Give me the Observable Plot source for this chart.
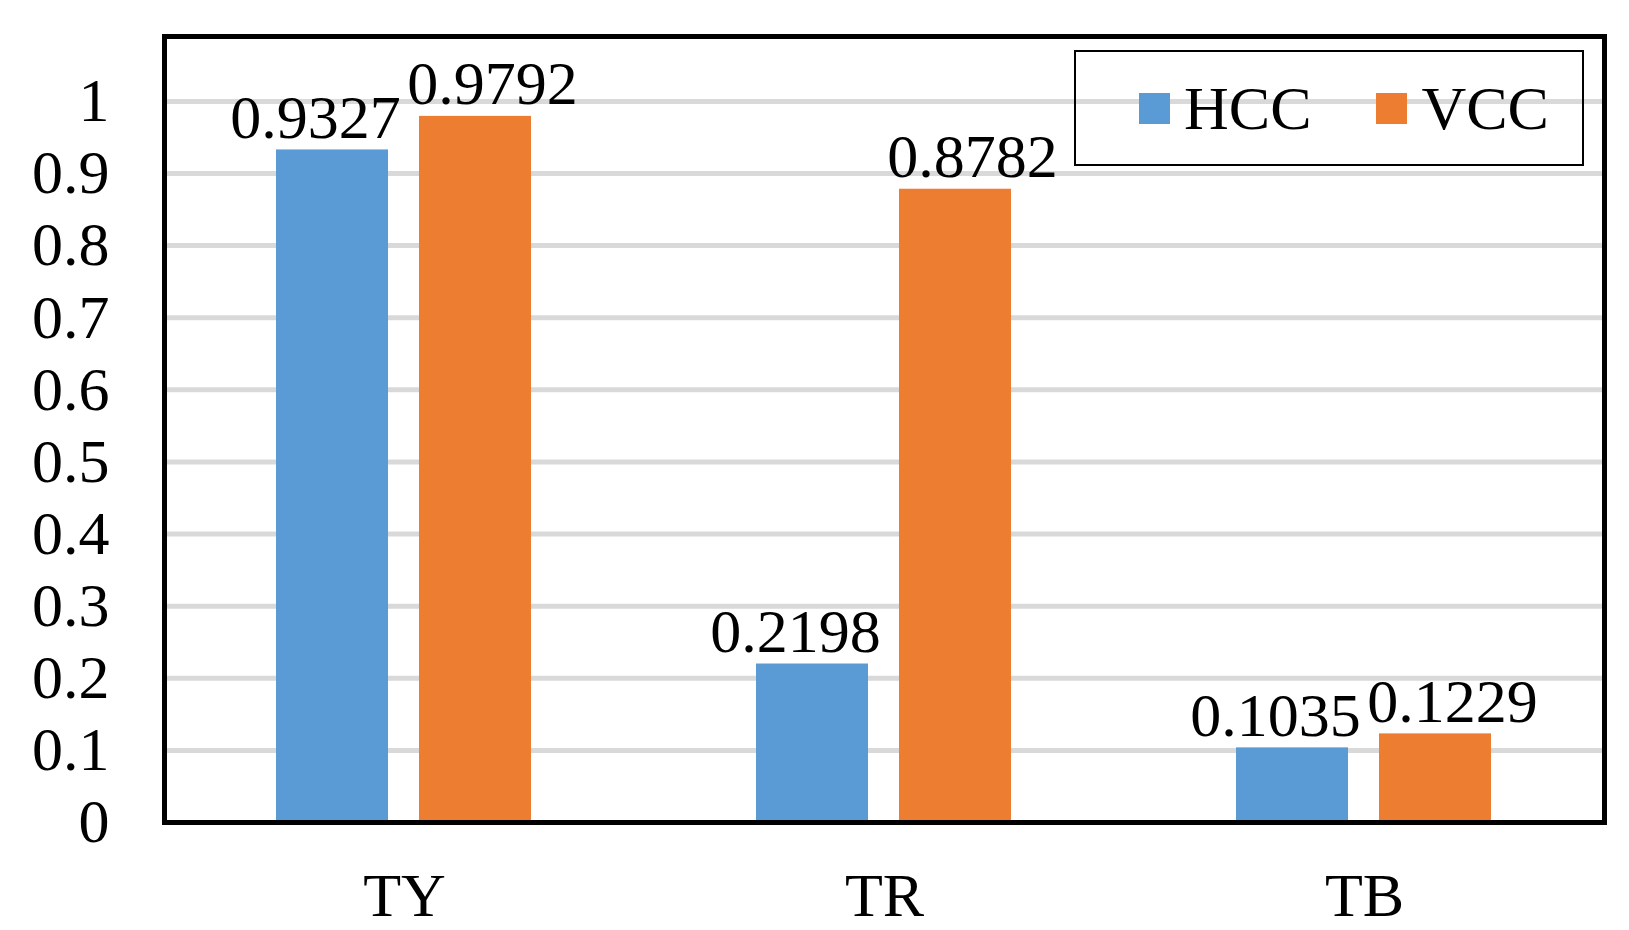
<!DOCTYPE html>
<html>
<head>
<meta charset="utf-8">
<script src="https://cdn.jsdelivr.net/npm/d3@7"></script>
<script src="https://cdn.jsdelivr.net/npm/@observablehq/plot@0.6"></script>
<style>
  html, body { margin: 0; padding: 0; background: #fff; }
  #wrap { position: relative; width: 1629px; height: 930px; font-family: "Liberation Serif", "Times New Roman", serif; }
  #chart { position: absolute; left: 0; top: 0; }
  #legend { position: absolute; left: 1074px; top: 50px; width: 510px; height: 116px; box-sizing: border-box;
            border: 2px solid #000; display: flex; align-items: center; padding-left: 63px;
            font-size: 62px; line-height: 1; color: #000; }
  #legend .item { display: flex; align-items: center; margin-right: 65px; }
  #legend .sw { width: 31px; height: 31px; margin-right: 14px; }
</style>
</head>
<body>
<div id="wrap"><div id="chart"></div><div id="legend"></div></div>
<script>
// ---- data ----
const categories = ["TY", "TR", "TB"];
const series = ["HCC", "VCC"];
const hccValues = [0.9327, 0.2198, 0.1035];
const vccValues = [0.9792, 0.8782, 0.1229];
const yTicks = [0, 0.1, 0.2, 0.3, 0.4, 0.5, 0.6, 0.7, 0.8, 0.9, 1];
const seriesColors = ["#5B9BD5", "#ED7D31"];

const rows = categories.flatMap((c, i) => [
  {category: c, series: series[0], value: hccValues[i]},
  {category: c, series: series[1], value: vccValues[i]}
]);

const font = "'Liberation Serif', 'Times New Roman', serif";

const chart = Plot.plot({
  width: 1629,
  height: 930,
  marginLeft: 163,
  marginRight: 24,
  marginTop: 36,
  marginBottom: 108,
  style: {fontFamily: font, fontSize: "62px", color: "#000", background: "#fff"},
  fx: {domain: categories, padding: 0, label: null, axis: "bottom", tickSize: 0, tickPadding: 49},
  x: {domain: series, paddingInner: 0.214, paddingOuter: 0.784, axis: null},
  y: {domain: [0, 1.09], ticks: yTicks, tickFormat: d => String(d), tickSize: 0, tickPadding: 55, label: null},
  color: {domain: series, range: seriesColors},
  marks: [
    Plot.gridY(yTicks.filter(d => d > 0), {stroke: "#d9d9d9", strokeOpacity: 1, strokeWidth: 5}),
    Plot.barY(rows, {fx: "category", x: "series", y: "value", fill: "series"}),
    Plot.text(rows.filter(d => d.series === series[0]), {
      fx: "category", x: "series", y: "value", text: d => String(d.value),
      lineAnchor: "bottom", dy: -12, dx: -17, fill: "#000", fontSize: 62
    }),
    Plot.text(rows.filter(d => d.series === series[1]), {
      fx: "category", x: "series", y: "value", text: d => String(d.value),
      lineAnchor: "bottom", dy: -12, dx: 17, fill: "#000", fontSize: 62
    }),
    Plot.frame({facet: "super", stroke: "#000", strokeWidth: 5})
  ]
});
document.getElementById("chart").appendChild(chart);

// legend (HTML, overlaid inside the plot frame)
const legend = document.getElementById("legend");
series.forEach((s, i) => {
  const item = document.createElement("div");
  item.className = "item";
  const sw = document.createElement("div");
  sw.className = "sw";
  sw.style.background = seriesColors[i];
  const label = document.createElement("span");
  label.textContent = s;
  item.appendChild(sw);
  item.appendChild(label);
  legend.appendChild(item);
});
</script>
</body>
</html>
